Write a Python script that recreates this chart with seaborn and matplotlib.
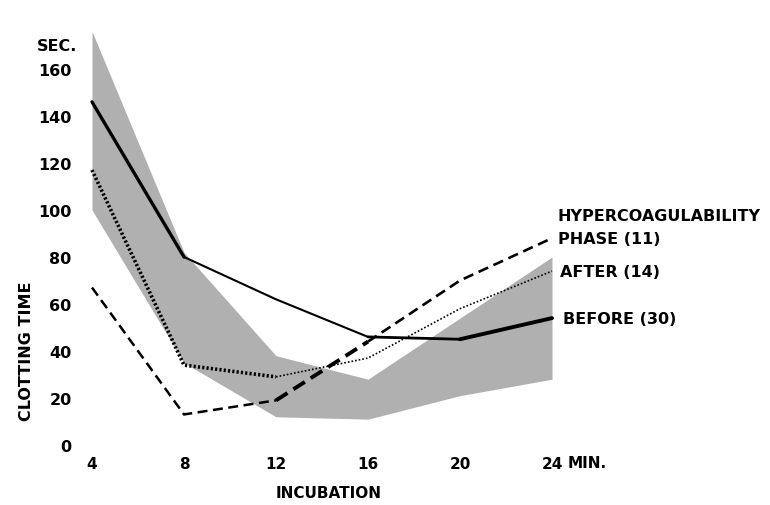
import numpy as np
import matplotlib
matplotlib.use("Agg")
import matplotlib.pyplot as plt
import seaborn as sns

sns.set_style('white')
plt.rcParams['font.family'] = ['DejaVu Sans']
plt.rc('font', weight='bold')
plt.rc('text', color='black')
plt.rc('axes', labelcolor='black')
plt.rc('xtick', color='black')
plt.rc('ytick', color='black')

# incubation time (min)
incubation = [4, 8, 12, 16, 20, 24]

# clotting time (sec)
before = [146, 80, 62, 46, 45, 54]
after = [117, 34, 29, 37, 58, 74]
hyper = [67, 13, 19, 44, 70, 88]

# shaded normal range
band_upper = [176, 82, 38, 28, 54, 80]
band_lower = [100, 35, 12, 11, 21, 28]

yticks = [0, 20, 40, 60, 80, 100, 120, 140, 160]

fig = plt.figure(figsize=(7.7, 5.06), dpi=100)
ax = fig.add_axes([80/770, 60/506, 480/770, 426/506])

ax.fill_between(incubation, band_lower, band_upper, color='#b0b0b0', lw=0, zorder=1)

# BEFORE, solid with changing weight
sns.lineplot(x=incubation[0:2], y=before[0:2], ax=ax, color='black', lw=2.4, zorder=3)
sns.lineplot(x=incubation[1:4], y=before[1:4], ax=ax, color='black', lw=1.5, zorder=3)
sns.lineplot(x=incubation[3:5], y=before[3:5], ax=ax, color='black', lw=2.0, zorder=3)
sns.lineplot(x=incubation[4:6], y=before[4:6], ax=ax, color='black', lw=2.8, zorder=3)

# AFTER, dotted
sns.lineplot(x=incubation[0:3], y=after[0:3], ax=ax, color='black', lw=2.6, ls=(0, (0.6, 0.6)), zorder=3)
sns.lineplot(x=incubation[2:6], y=after[2:6], ax=ax, color='black', lw=1.2, ls=(0, (1, 1.2)), zorder=3)

# HYPERCOAGULABILITY PHASE, dashed
sns.lineplot(x=incubation[0:3], y=hyper[0:3], ax=ax, color='black', lw=1.8, ls=(0, (4, 2.2)), zorder=3)
sns.lineplot(x=incubation[2:4], y=hyper[2:4], ax=ax, color='black', lw=2.8, ls=(0, (3.5, 1.8)), zorder=3)
sns.lineplot(x=incubation[3:6], y=hyper[3:6], ax=ax, color='black', lw=1.9, ls=(0, (4, 2.2)), zorder=3)

ax.set_xlim(4 - 12/23, 4 + 468/23)
ax.set_ylim(0, 426/2.35)
ax.set_xticks(incubation)
ax.set_xticklabels([str(v) for v in incubation])
ax.set_yticks(yticks)
ax.set_yticklabels([str(v) for v in yticks])
ax.tick_params(axis='x', length=0, pad=8, labelsize=11, labelcolor='black')
ax.tick_params(axis='y', length=0, pad=6, labelsize=11.5, labelcolor='black')
for s in ax.spines.values():
    s.set_visible(False)

ax.text(24.7, -0.042, "MIN.", transform=ax.get_xaxis_transform(), ha='left', va='center', fontsize=11, color='black')
ax.text(-0.006, 170, "SEC.", transform=ax.get_yaxis_transform(), ha='right', va='center', fontsize=11.5, color='black')

ax.set_xlabel("INCUBATION", fontsize=11, fontweight='bold', color='black')
ax.xaxis.set_label_coords(0.517, -0.093)
ax.set_ylabel("CLOTTING TIME", fontsize=11.5, fontweight='bold', color='black')
ax.yaxis.set_label_coords(-0.095, 0.223)

# series labels at line ends
xl = 24.26
ax.text(xl, hyper[-1] + 9.5, "HYPERCOAGULABILITY", ha='left', va='center', fontsize=11.5, color='black', clip_on=False)
ax.text(xl, hyper[-1], "PHASE (11)", ha='left', va='center', fontsize=11.5, color='black', clip_on=False)
ax.text(xl + 0.1, after[-1], "AFTER (14)", ha='left', va='center', fontsize=11.5, color='black', clip_on=False)
ax.text(xl + 0.2, before[-1], "BEFORE (30)", ha='left', va='center', fontsize=11.5, color='black', clip_on=False)

fig.savefig("out.png", dpi=100)
